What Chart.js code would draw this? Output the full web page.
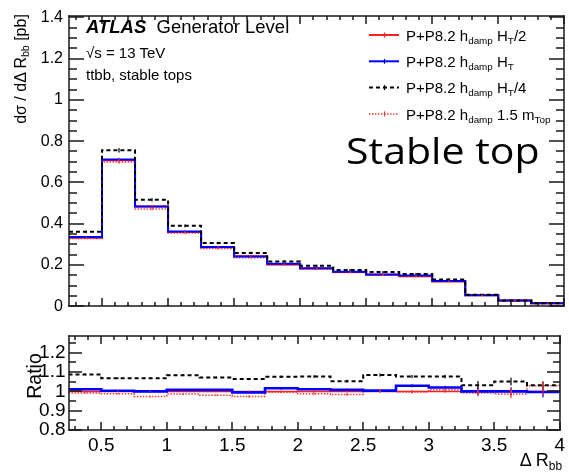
<!DOCTYPE html>
<html>
<head>
<meta charset="utf-8">
<script src="https://cdn.jsdelivr.net/npm/chart.js@4/dist/chart.umd.min.js"></script>
<style>
  html, body { margin: 0; padding: 0; background: #fff; overflow: hidden; }
  #wrap { position: relative; width: 569px; height: 474px; font-family: "Liberation Sans", Arial, sans-serif; color: #000; }
  #wrap canvas { position: absolute; left: 0; }
  #cMain { top: 0; }
  #cRatio { top: 322px; }
  .t { position: absolute; white-space: nowrap; line-height: 1; }
  .t sub { font-size: 0.66em; vertical-align: -0.32em; line-height: 0; }
  .rot { transform: translate(-50%, -50%) rotate(-90deg); }
</style>
</head>
<body>
<div id="wrap">
  <canvas id="cMain" width="569" height="322"></canvas>
  <canvas id="cRatio" width="569" height="152"></canvas>

  <div class="t" style="left:86px;top:18px;font-size:18.5px;"><b><i>ATLAS</i></b>&nbsp; Generator Level</div>
  <div class="t" style="left:86px;top:45px;font-size:15px;">√s = 13 TeV</div>
  <div class="t" style="left:86px;top:67px;font-size:15px;">ttbb, stable tops</div>

  <div class="t" style="left:406px;top:27.6px;font-size:15px;">P+P8.2 h<sub>damp</sub> H<sub>T</sub>/2</div>
  <div class="t" style="left:406px;top:53.9px;font-size:15px;">P+P8.2 h<sub>damp</sub> H<sub>T</sub></div>
  <div class="t" style="left:406px;top:80.2px;font-size:15px;">P+P8.2 h<sub>damp</sub> H<sub>T</sub>/4</div>
  <div class="t" style="left:406px;top:106.5px;font-size:15px;">P+P8.2 h<sub>damp</sub> 1.5 m<sub>Top</sub></div>

  <div id="stable" class="t" style="left:346px;top:133px;font-family:'Open Sans',sans-serif;font-size:36px;transform-origin:0 0;">Stable top</div>

  <div class="t rot" style="left:21px;top:69px;font-size:16px;">dσ / dΔ R<sub>bb</sub> [pb]</div>
  <div class="t rot" style="left:35px;top:376px;font-size:19.5px;">Ratio</div>
  <div class="t" style="right:7px;top:451px;font-size:18px;">Δ R<sub>bb</sub></div>
</div>

<script>
// Bin edges of the ΔR(b,b) histogram
const binEdges = [0.25, 0.5, 0.75, 1.0, 1.25, 1.5, 1.75, 2.0, 2.25, 2.5, 2.75, 3.0, 3.25, 3.5, 3.75, 4.0];

// dσ/dΔR_bb [pb] per bin
const hdampHalf    = [0.332, 0.708, 0.484, 0.360, 0.286, 0.243, 0.203, 0.183, 0.167, 0.153, 0.146, 0.121, 0.054, 0.028, 0.015];
const hdampHT      = [0.336, 0.711, 0.484, 0.363, 0.288, 0.242, 0.206, 0.185, 0.168, 0.154, 0.150, 0.123, 0.054, 0.028, 0.015];
const hdampQuarter = [0.361, 0.756, 0.516, 0.390, 0.307, 0.259, 0.218, 0.197, 0.176, 0.166, 0.157, 0.130, 0.056, 0.029, 0.0155];
const hdampMtop    = [0.329, 0.699, 0.471, 0.355, 0.280, 0.236, 0.202, 0.181, 0.164, 0.153, 0.145, 0.122, 0.0535, 0.0276, 0.0155];

// statistical uncertainties [pb]
const errHalf    = [0.004, 0.008, 0.006, 0.005, 0.005, 0.004, 0.004, 0.004, 0.004, 0.004, 0.004, 0.003, 0.003, 0.002, 0.002];
const errHT      = [0.004, 0.008, 0.006, 0.005, 0.005, 0.004, 0.004, 0.004, 0.004, 0.004, 0.004, 0.003, 0.003, 0.002, 0.002];
const errQuarter = [0.006, 0.011, 0.008, 0.007, 0.006, 0.006, 0.005, 0.005, 0.005, 0.005, 0.005, 0.005, 0.004, 0.003, 0.003];
const errMtop    = [0.004, 0.008, 0.006, 0.005, 0.005, 0.004, 0.004, 0.004, 0.004, 0.004, 0.004, 0.003, 0.003, 0.002, 0.002];

// ratios to hdamp = HT/2
const ratioHalf    = [1.000, 1.000, 1.000, 1.000, 1.000, 1.000, 1.000, 1.000, 1.000, 1.000, 1.000, 1.000, 1.000, 1.000, 1.000];
const ratioHT      = [1.011, 1.003, 1.000, 1.008, 1.008, 0.995, 1.016, 1.011, 1.008, 1.004, 1.029, 1.020, 1.000, 1.000, 0.997];
const ratioQuarter = [1.088, 1.068, 1.068, 1.084, 1.072, 1.064, 1.076, 1.077, 1.053, 1.085, 1.077, 1.077, 1.032, 1.051, 1.032];
const ratioMtop    = [0.992, 0.988, 0.973, 0.986, 0.980, 0.973, 0.996, 0.988, 0.984, 1.003, 0.997, 1.008, 0.992, 0.987, 1.029];

const rErrHalf    = [0.003, 0.003, 0.003, 0.003, 0.004, 0.004, 0.004, 0.005, 0.005, 0.005, 0.006, 0.006, 0.012, 0.016, 0.018];
const rErrHT      = [0.005, 0.004, 0.004, 0.005, 0.005, 0.006, 0.006, 0.007, 0.007, 0.008, 0.008, 0.009, 0.018, 0.022, 0.028];
const rErrQuarter = [0.005, 0.004, 0.004, 0.005, 0.005, 0.006, 0.006, 0.007, 0.007, 0.008, 0.008, 0.009, 0.022, 0.020, 0.020];
const rErrMtop    = [0.005, 0.004, 0.004, 0.005, 0.005, 0.006, 0.006, 0.007, 0.007, 0.008, 0.008, 0.009, 0.018, 0.022, 0.022];

// axis tick labels
const mainYTicks  = [0, 0.2, 0.4, 0.6, 0.8, 1, 1.2, 1.4];
const ratioYTicks = [0.8, 0.9, 1, 1.1, 1.2];
const xTicks      = [0.5, 1, 1.5, 2, 2.5, 3, 3.5, 4];

const RED = '#ff1f1f', BLUE = '#0000ff', BLACK = '#000000', DOTRED = '#f03a32';

Chart.defaults.font.family = '"Liberation Sans", Arial, sans-serif';
Chart.defaults.color = '#000';

// step-histogram points: one point per left bin edge, plus the closing edge
function histPoints(vals) {
  const pts = vals.map((v, i) => ({ x: binEdges[i], y: v }));
  pts.push({ x: binEdges[binEdges.length - 1], y: vals[vals.length - 1] });
  return pts;
}

function series(vals, errs, color, width, dash, order) {
  return {
    data: histPoints(vals), values: vals, errors: errs,
    borderColor: color, borderWidth: width, borderDash: dash,
    pointRadius: 0, stepped: 'before', fill: false, order: order
  };
}

// tick positions k*step inside [lo, hi]
function tickValues(lo, hi, step) {
  const out = [];
  const k0 = Math.ceil(lo / step - 1e-6), k1 = Math.floor(hi / step + 1e-6);
  for (let k = k0; k <= k1; k++) out.push(k * step);
  return out;
}

// ROOT-style frame with inward ticks on all sides, vertical error bars and legend samples
function makeFrame(cfg) {
  return {
    id: 'rootFrame',
    afterDraw(chart) {
      const ctx = chart.ctx;
      const a = chart.chartArea;
      const xs = chart.scales.x, ys = chart.scales.y;
      const L = Math.round(a.left), R = Math.round(a.right), T = Math.round(a.top), B = Math.round(a.bottom);
      ctx.save();
      ctx.setLineDash([]);

      // error bars at bin centres
      chart.data.datasets.forEach((ds) => {
        ctx.fillStyle = ds.borderColor;
        ds.values.forEach((v, k) => {
          const px = Math.round(xs.getPixelForValue((binEdges[k] + binEdges[k + 1]) / 2));
          const y1 = ys.getPixelForValue(v + ds.errors[k]);
          const y0 = ys.getPixelForValue(v - ds.errors[k]);
          ctx.fillRect(px - 0.6, y1, 1.2, y0 - y1);
        });
      });

      // inward ticks
      ctx.fillStyle = '#1a1a1a';
      const w = 1.5;
      tickValues(cfg.xRange[0], cfg.xRange[1], cfg.xMinor).forEach((v) => {
        const isMaj = Math.abs(v / cfg.xMajor - Math.round(v / cfg.xMajor)) < 1e-6;
        const len = isMaj ? cfg.xMajLen : cfg.xMinLen;
        const p = Math.round(xs.getPixelForValue(v));
        ctx.fillRect(p - w / 2, B - len, w, len);
        ctx.fillRect(p - w / 2, T, w, len);
      });
      tickValues(cfg.yRange[0], cfg.yRange[1], cfg.yMinor).forEach((v) => {
        const isMaj = Math.abs(v / cfg.yMajor - Math.round(v / cfg.yMajor)) < 1e-6;
        const len = isMaj ? cfg.yMajLen : cfg.yMinLen;
        const p = Math.round(ys.getPixelForValue(v));
        ctx.fillRect(L, p - w / 2, len, w);
        ctx.fillRect(R - len, p - w / 2, len, w);
      });

      // frame
      ctx.fillRect(L - 0.75, T - 0.75, R - L + 1.5, 1.5);
      ctx.fillRect(L - 0.75, B - 0.75, R - L + 1.5, 1.5);
      ctx.fillRect(L - 0.75, T - 0.75, 1.5, B - T + 1.5);
      ctx.fillRect(R - 0.75, T - 0.75, 1.5, B - T + 1.5);

      // legend line samples
      if (cfg.legend) {
        [2, 1, 0, 3].forEach((di, row) => {
          const ds = chart.data.datasets[di];
          const yy = 35 + row * 26.3;
          ctx.strokeStyle = ds.borderColor;
          ctx.lineWidth = ds.borderWidth;
          ctx.setLineDash(ds.borderDash || []);
          ctx.beginPath(); ctx.moveTo(369, yy); ctx.lineTo(399, yy); ctx.stroke();
          ctx.fillStyle = ds.borderColor;
          ctx.fillRect(383.9, yy - 2.5, 1.2, 5);
        });
      }
      ctx.restore();
    }
  };
}

function fixedTicks(list) {
  return (scale) => { scale.ticks = list.map(v => ({ value: v })); };
}

new Chart(document.getElementById('cMain'), {
  type: 'line',
  data: {
    datasets: [
      series(hdampQuarter, errQuarter, BLACK, 2, [4, 3], 0),
      series(hdampHT, errHT, BLUE, 2, [], 1),
      series(hdampHalf, errHalf, RED, 2, [], 2),
      series(hdampMtop, errMtop, DOTRED, 1.5, [1.5, 1.5], 3)
    ]
  },
  options: {
    responsive: false, animation: false, devicePixelRatio: 1,
    layout: { padding: { left: 0, top: 11.7, right: 4.7, bottom: 9 } },
    plugins: { legend: { display: false }, tooltip: { enabled: false } },
    scales: {
      x: { type: 'linear', min: 0.25, max: 4, display: false },
      y: {
        type: 'linear', min: 0, max: 1.408,
        grid: { display: false, drawTicks: false }, border: { display: false },
        afterBuildTicks: fixedTicks(mainYTicks),
        afterFit: (s) => { s.width = 69; },
        ticks: { padding: 6, autoSkip: false, font: { size: 16 }, callback: (v) => String(v) }
      }
    }
  },
  plugins: [makeFrame({ xRange: [0.25, 4], xMinor: 0.1, xMajor: 0.5, xMajLen: 8, xMinLen: 4,
                        yRange: [0, 1.408], yMinor: 0.05, yMajor: 0.2, yMajLen: 15, yMinLen: 8, legend: true })]
});

new Chart(document.getElementById('cRatio'), {
  type: 'line',
  data: {
    datasets: [
      series(ratioQuarter, rErrQuarter, BLACK, 2, [4, 3], 0),
      series(ratioHT, rErrHT, BLUE, 2.6, [], 1),
      series(ratioHalf, rErrHalf, RED, 1.5, [], 2),
      series(ratioMtop, rErrMtop, DOTRED, 1.5, [1.5, 1.5], 3)
    ]
  },
  options: {
    responsive: false, animation: false, devicePixelRatio: 1,
    layout: { padding: { left: 0, top: 7.3, right: 4.7, bottom: 0 } },
    plugins: { legend: { display: false }, tooltip: { enabled: false } },
    scales: {
      x: {
        type: 'linear', min: 0.25, max: 4,
        grid: { display: false, drawTicks: false }, border: { display: false },
        afterBuildTicks: fixedTicks(xTicks),
        afterFit: (s) => { s.height = 44; },
        ticks: { padding: 4, maxRotation: 0, autoSkip: false, font: { size: 19 }, callback: (v) => String(v) }
      },
      y: {
        type: 'linear', min: 0.8, max: 1.285,
        grid: { display: false, drawTicks: false }, border: { display: false },
        afterBuildTicks: fixedTicks(ratioYTicks),
        afterFit: (s) => { s.width = 68.5; },
        ticks: { padding: 3, autoSkip: false, font: { size: 19 }, callback: (v) => String(v) }
      }
    }
  },
  plugins: [makeFrame({ xRange: [0.25, 4], xMinor: 0.1, xMajor: 0.5, xMajLen: 8, xMinLen: 4,
                        yRange: [0.8, 1.285], yMinor: 0.05, yMajor: 0.1, yMajLen: 13, yMinLen: 7, legend: false })]
});

// stretch the large label to its nominal width
const st = document.getElementById('stable');
st.style.transform = 'scaleX(' + (194 / st.offsetWidth).toFixed(3) + ')';
</script>
</body>
</html>
